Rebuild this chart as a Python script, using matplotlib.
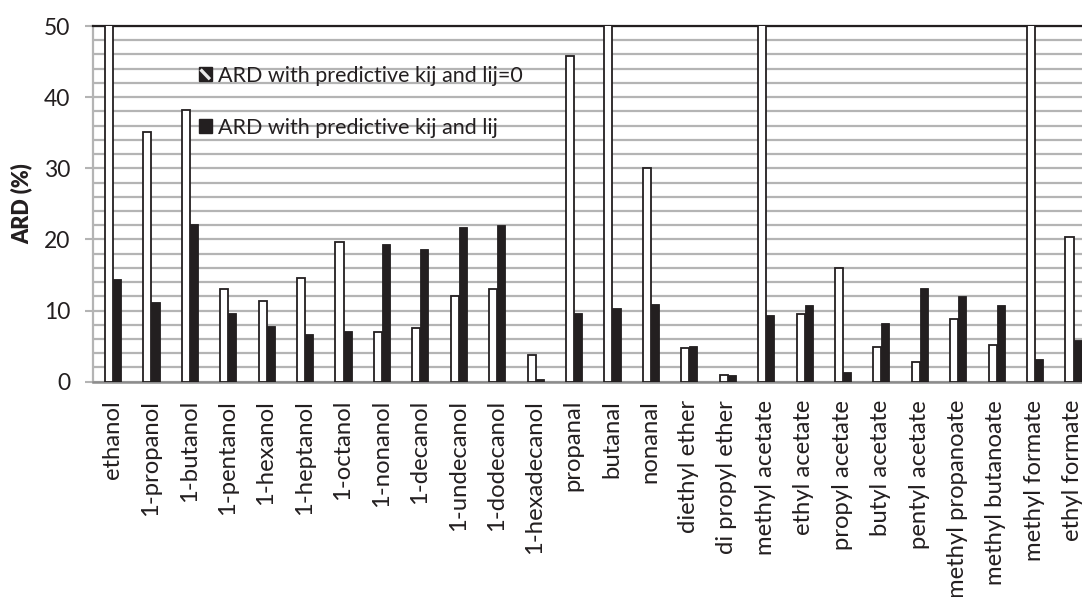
import matplotlib
matplotlib.use("Agg")
import matplotlib.pyplot as plt
from matplotlib.patches import Patch, Rectangle
from matplotlib.lines import Line2D
from matplotlib.legend_handler import HandlerBase
from matplotlib.ticker import MultipleLocator
import numpy as np

compounds = [
    "ethanol", "1-propanol", "1-butanol", "1-pentanol", "1-hexanol",
    "1-heptanol", "1-octanol", "1-nonanol", "1-decanol", "1-undecanol",
    "1-dodecanol", "1-hexadecanol", "propanal", "butanal", "nonanal",
    "diethyl ether", "di propyl ether", "methyl acetate", "ethyl acetate",
    "propyl acetate", "butyl acetate", "pentyl acetate", "methyl propanoate",
    "methyl butanoate", "methyl formate", "ethyl formate",
]

# ARD (%) with predictive kij and lij = 0 (values above 50 run off the top)
ard_lij_zero = [
    60.0, 35.1, 38.2, 13.1, 11.4, 14.6, 19.7, 7.0, 7.5, 12.0,
    13.1, 3.7, 45.8, 60.0, 30.0, 4.7, 0.9, 60.0, 9.5,
    16.0, 4.9, 2.8, 8.8, 5.2, 60.0, 20.4,
]

# ARD (%) with predictive kij and lij
ard_lij = [
    14.5, 11.2, 22.2, 9.6, 7.9, 6.7, 7.1, 19.3, 18.6, 21.8,
    22.0, 0.4, 9.6, 10.3, 10.9, 5.0, 0.9, 9.4, 10.8,
    1.3, 8.2, 13.2, 12.0, 10.8, 3.2, 5.8,
]

series_names = ["ARD with predictive kij and lij=0", "ARD with predictive kij and lij"]
y_ticks = [0, 10, 20, 30, 40, 50]

dark = "#231f20"
grid_gray = "#b4b4b4"
font = ["Lato", "DejaVu Sans"]
plt.rcParams["font.family"] = font
plt.rcParams["text.color"] = dark


class StripedKey(HandlerBase):
    """Dark square key crossed by one light diagonal stripe."""

    def create_artists(self, legend, orig_handle, xdescent, ydescent,
                       width, height, fontsize, trans):
        x0, y0 = -xdescent, -ydescent
        box = Rectangle((x0, y0), width, height, facecolor=dark,
                        edgecolor=dark, linewidth=1.0, transform=trans)
        stripe = Line2D([x0 + 0.15 * width, x0 + 0.85 * width],
                        [y0 + 0.85 * height, y0 + 0.15 * height],
                        color="#e8e8e8", linewidth=2.4,
                        solid_capstyle="butt", transform=trans)
        return [box, stripe]


fig = plt.figure(figsize=(10.82, 5.97), dpi=100)
ax = fig.add_axes([0.086, 0.3606, 0.9232, 0.5958])

x = np.arange(len(compounds))
w = 0.21
ax.bar(x - w / 2 + 0.02, ard_lij_zero, width=w, color="white", edgecolor=dark,
       linewidth=1.3, zorder=3)
ax.bar(x + w / 2 + 0.02, ard_lij, width=w, color=dark, edgecolor=dark,
       linewidth=0.6, zorder=3)

ax.set_xlim(-0.5, len(compounds) - 0.5)
ax.set_ylim(0, 50)
ax.set_yticks(y_ticks)
ax.yaxis.set_minor_locator(MultipleLocator(2))
ax.grid(axis="y", which="both", color=grid_gray, linewidth=1.6, zorder=0)
ax.set_axisbelow(True)

ax.set_xticks(x)
ax.set_xticklabels(compounds, rotation=90, fontsize=17.2, color=dark)
ax.tick_params(axis="x", length=0, pad=13)
ax.tick_params(axis="y", which="major", length=5.5, width=1.5, color=grid_gray,
               labelsize=16.5, labelcolor=dark, pad=11)
ax.tick_params(axis="y", which="minor", length=0)

ax.spines["right"].set_visible(False)
ax.spines["top"].set_color(dark)
ax.spines["top"].set_linewidth(1.6)
ax.spines["left"].set_color(grid_gray)
ax.spines["left"].set_linewidth(1.6)
ax.spines["bottom"].set_color("#8c8c8c")
ax.spines["bottom"].set_linewidth(1.8)

ax.set_ylabel("ARD (%)", fontsize=15.5, fontweight="heavy", color=dark, labelpad=8)

striped_key = Patch(facecolor=dark, edgecolor=dark)
solid_key = Patch(facecolor=dark, edgecolor=dark)
leg = ax.legend([striped_key, solid_key], series_names, loc="upper left",
                bbox_to_anchor=(0.097, 0.912), frameon=False, fontsize=15.5,
                handlelength=0.62, handleheight=0.62, handletextpad=0.3,
                labelspacing=1.48, borderaxespad=0,
                handler_map={striped_key: StripedKey()})
leg.set_zorder(5)

fig.savefig("out.png", dpi=100)
